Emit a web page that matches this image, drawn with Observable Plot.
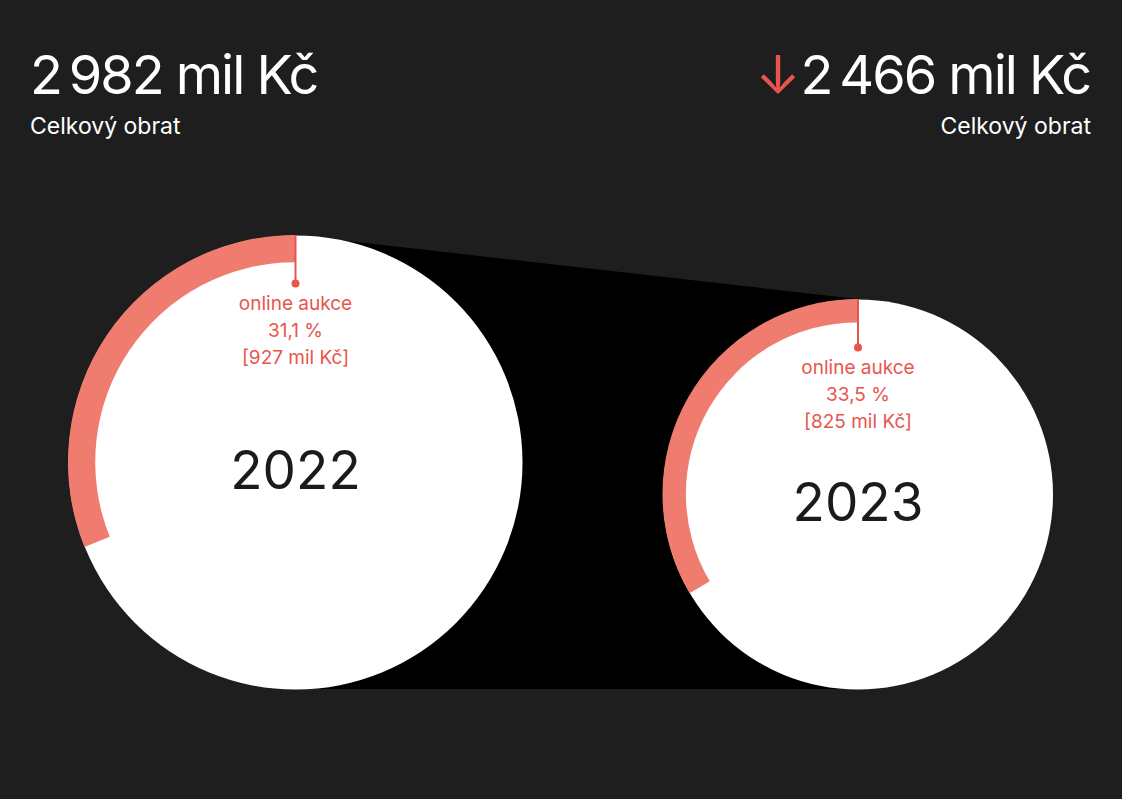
<!DOCTYPE html>
<html>
<head>
<meta charset="utf-8">
<script src="https://cdn.jsdelivr.net/npm/d3@7"></script>
<script src="https://cdn.jsdelivr.net/npm/@observablehq/plot@0.6"></script>
<style>
  html, body { margin: 0; padding: 0; background: #1e1e1e; }
  body { width: 1122px; height: 799px; position: relative; overflow: hidden;
         font-family: Inter, "Noto Sans", "DejaVu Sans", sans-serif; color: #fff; }
  .kpi { position: absolute; top: 0; left: 0; width: 1122px; height: 160px; }
  .big { position: absolute; top: 48px; font-size: 54px; line-height: 54px; white-space: nowrap; letter-spacing: -2px; }
  .sub { position: absolute; top: 115px; font-size: 23px; line-height: 23px; white-space: nowrap; }
  #left .big, #left .sub { left: 30px; }
  #right .big { right: 32px; text-align: right; }
  #right .sub { right: 31px; text-align: right; }
  .arrow { color: #e8554e; margin-right: 2px; }
  #chart { position: absolute; left: 0; top: 160px; }
</style>
</head>
<body>
<div id="left" class="kpi"><div class="big"></div><div class="sub"></div></div>
<div id="right" class="kpi"><div class="big"></div><div class="sub"></div></div>
<div id="chart"></div>
<script>
// ---- data ----
const years = [2022, 2023];
const totals = [2982, 2466];            // mil Kč
const onlineShare = [31.1, 33.5];       // %
const onlineValue = [927, 825];         // mil Kč
const segmentLabel = "online aukce";
const totalLabel = "Celkový obrat";
const unit = "mil Kč";

// ---- styles ----
const red = "#e8554e";
const ringColor = "#f07c70";
const fontFamily = 'Inter, "Noto Sans", sans-serif';

const data = years.map((year, i) => ({
  year, total: totals[i], share: onlineShare[i], online: onlineValue[i]
}));

const fmtInt = v => d3.format(",")(v).replace(/,/g, "\u2009");
const fmtDec = v => d3.format(".1f")(v).replace(".", ",");

// header
document.querySelector("#left .big").textContent = `${fmtInt(totals[0])} ${unit}`;
document.querySelector("#left .sub").textContent = totalLabel;
document.querySelector("#right .big").innerHTML =
  `<span class="arrow">${totals[1] < totals[0] ? "↓" : "↑"}</span>${fmtInt(totals[1])} ${unit}`;
document.querySelector("#right .sub").textContent = totalLabel;

// radius scale shared with Plot
const rOpts = { type: "linear", domain: d3.extent(totals), range: [195, 227] };
const rS = Plot.scale({ r: rOpts });
const R = d => rS.apply(d.total);

// ring (arc) render mark, using Plot's scales
function ringMark(a0, a1) {
  const sc = (a1 && typeof a1.x === "function") ? a1 : a0;
  const g = d3.create("svg:g");
  const arc = d3.arc();
  for (const d of data) {
    const r = sc.r(d.total);
    const cx = sc.x(d.year), cy = sc.y(r);
    g.append("path")
      .attr("transform", `translate(${cx},${cy})`)
      .attr("fill", ringColor)
      .attr("d", arc({
        innerRadius: r * 0.88, outerRadius: r,
        startAngle: -d.share / 100 * 2 * Math.PI, endAngle: 0
      }));
  }
  return g.node();
}

const chart = Plot.plot({
  width: 1122,
  height: 639,
  marginTop: 0, marginLeft: 0, marginRight: 0, marginBottom: 110,
  style: { background: "transparent", overflow: "visible" },
  x: { type: "linear", domain: d3.extent(years), range: [295, 857.5], axis: null },
  y: { domain: [0, 529], axis: null },
  r: rOpts,
  marks: [
    Plot.area(data, { x1: "year", y1: 0, y2: d => 2 * R(d), fill: "#000" }),
    Plot.dot(data, { x: "year", y: d => R(d), r: "total", fill: "#fff", stroke: null }),
    ringMark,
    Plot.ruleX(data, { x: "year", y1: d => 2 * R(d), y2: d => 2 * R(d) - 48, stroke: red, strokeWidth: 2 }),
    Plot.dot(data, { x: "year", y: d => 2 * R(d) - 48, r: 4, fill: red, stroke: null }),
    Plot.text(data, {
      x: "year", y: d => 2 * R(d) - 56,
      text: d => `${segmentLabel}\n${fmtDec(d.share)} %\n[${d.online} ${unit}]`,
      lineAnchor: "top", lineHeight: 1.4, fontSize: 19, fill: red, fontFamily
    }),
    Plot.text(data, {
      x: "year", y: d => R(d) - 10, text: d => String(d.year),
      fontSize: 53, fill: "#1b1b1b", fontFamily
    })
  ]
});
document.getElementById("chart").appendChild(chart);
</script>
</body>
</html>
